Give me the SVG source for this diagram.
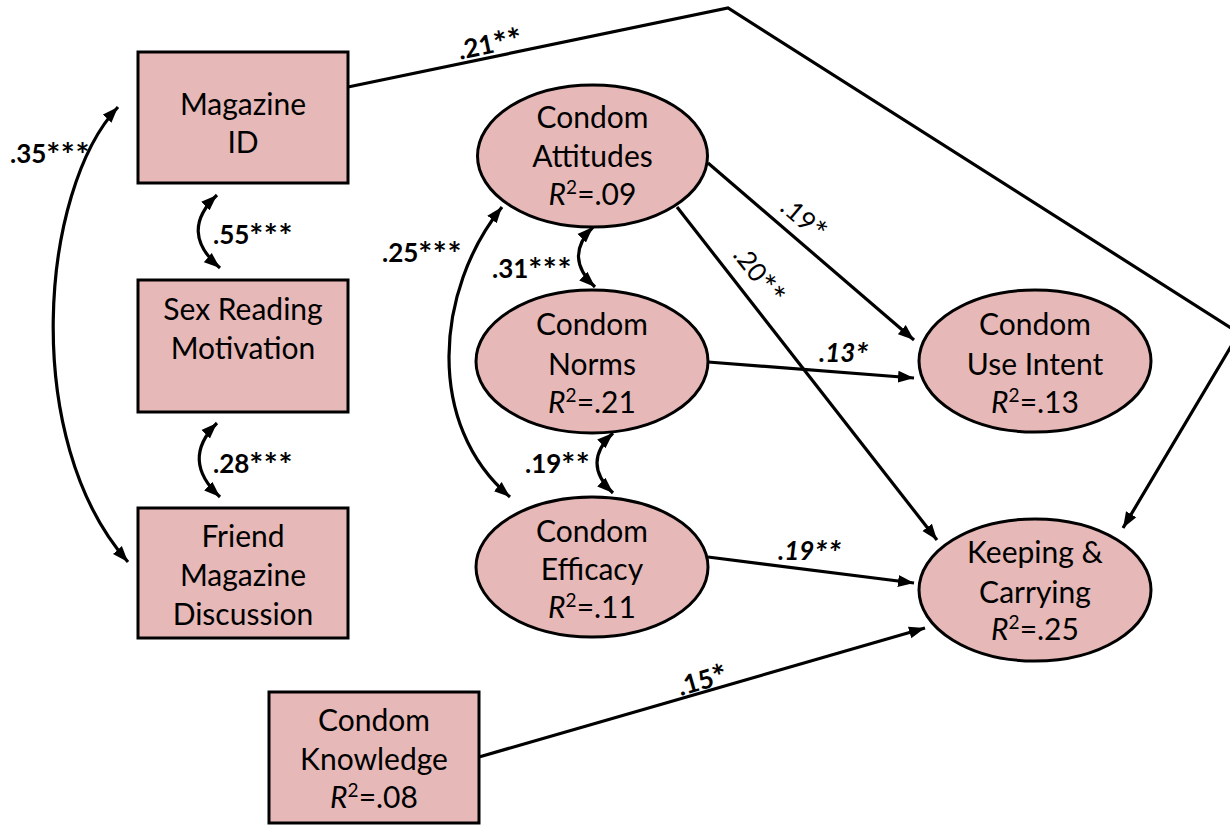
<svg xmlns="http://www.w3.org/2000/svg" width="1230" height="825" viewBox="0 0 1230 825">
  <style>
    .box { fill: #E6B8B7; stroke: #000; stroke-width: 3; }
    .node-text { font-family: Lato, "Liberation Sans", sans-serif; font-size: 30px; fill: #000; text-anchor: middle; }
    .edge { fill: none; stroke: #000; stroke-width: 3.2; }
    .lbl { font-family: Lato, "Liberation Sans", sans-serif; font-size: 26px; fill: #000; }
    .b { font-weight: bold; }
    .bi { font-weight: bold; font-style: italic; }
    .it { font-style: italic; }
    .ast { font-size: 33px; letter-spacing: 0.5px; }
  </style>
  <defs>
    <marker id="arrow" markerUnits="userSpaceOnUse" markerWidth="17" markerHeight="13" refX="16" refY="6.5" orient="auto-start-reverse">
      <path d="M0,0.5 L16,6.5 L0,12.5 z" fill="#000"/>
    </marker>
  </defs>
  <rect width="1230" height="825" fill="#fff"/>

  <!-- connectors -->
  <g id="connectors">
    <path class="edge" d="M348,87 L728,8 L1239,333 L1123,528" marker-end="url(#arrow)"/>
    <path class="edge" d="M708,163 L914,340" marker-end="url(#arrow)"/>
    <path class="edge" d="M677,207 L937,540" marker-end="url(#arrow)"/>
    <path class="edge" d="M708,362 L914,378" marker-end="url(#arrow)"/>
    <path class="edge" d="M708,557 L914,583" marker-end="url(#arrow)"/>
    <path class="edge" d="M479,757 L925,628" marker-end="url(#arrow)"/>
    <!-- covariances -->
    <path class="edge" d="M118,107 C40,190 20,440 128,562" marker-start="url(#arrow)" marker-end="url(#arrow)"/>
    <path class="edge" d="M217,195 Q178,232 220,268" marker-start="url(#arrow)" marker-end="url(#arrow)"/>
    <path class="edge" d="M217,423 Q180,460 220,497" marker-start="url(#arrow)" marker-end="url(#arrow)"/>
    <path class="edge" d="M502,207 C435,290 425,425 510,497" marker-start="url(#arrow)" marker-end="url(#arrow)"/>
    <path class="edge" d="M593,227 Q563,257 595,287" marker-start="url(#arrow)" marker-end="url(#arrow)"/>
    <path class="edge" d="M613,433 Q581,463 613,493" marker-start="url(#arrow)" marker-end="url(#arrow)"/>

    <text class="lbl b" transform="translate(492,53) rotate(-11.7)" text-anchor="middle">.21<tspan class="ast" dy="4">**</tspan></text>
    <text class="lbl b" x="10" y="163">.35<tspan class="ast" dy="4">***</tspan></text>
    <text class="lbl b" x="213" y="244">.55<tspan class="ast" dy="4">***</tspan></text>
    <text class="lbl b" x="213" y="473">.28<tspan class="ast" dy="4">***</tspan></text>
    <text class="lbl b" x="382" y="262">.25<tspan class="ast" dy="4">***</tspan></text>
    <text class="lbl b" x="492" y="278">.31<tspan class="ast" dy="4">***</tspan></text>
    <text class="lbl b" x="525" y="473">.19<tspan class="ast" dy="4">**</tspan></text>
    <text class="lbl" transform="translate(798,226) rotate(40.7)" text-anchor="middle">.19<tspan class="ast" dy="4">*</tspan></text>
    <text class="lbl" transform="translate(752,281) rotate(52)" text-anchor="middle">.20<tspan class="ast" dy="4">**</tspan></text>
    <text class="lbl bi" x="819" y="362">.13<tspan class="ast" dy="4">*</tspan></text>
    <text class="lbl bi" x="778" y="560">.19<tspan class="ast" dy="4">**</tspan></text>
    <text class="lbl b" transform="translate(705,689) rotate(-16)" text-anchor="middle">.15<tspan class="ast" dy="4">*</tspan></text>
  </g>

  <!-- nodes -->
  <g id="magazine-id">
    <rect class="box" x="138" y="52" width="210" height="131"/>
    <text class="node-text" x="243" y="115">Magazine</text>
    <text class="node-text" x="243" y="153">ID</text>
  </g>
  <g id="sex-reading-motivation">
    <rect class="box" x="138" y="280" width="210" height="132"/>
    <text class="node-text" x="243" y="320">Sex Reading</text>
    <text class="node-text" x="243" y="359">Motivation</text>
  </g>
  <g id="friend-magazine-discussion">
    <rect class="box" x="138" y="508" width="210" height="130"/>
    <text class="node-text" x="243" y="547">Friend</text>
    <text class="node-text" x="243" y="586">Magazine</text>
    <text class="node-text" x="243" y="625">Discussion</text>
  </g>
  <g id="condom-knowledge">
    <rect class="box" x="269" y="692" width="210" height="131"/>
    <text class="node-text" x="374" y="731">Condom</text>
    <text class="node-text" x="374" y="770">Knowledge</text>
    <text class="node-text" x="374" y="808"><tspan class="it">R</tspan><tspan dy="-11" font-size="19">2</tspan><tspan dy="11">=.08</tspan></text>
  </g>
  <g id="condom-attitudes">
    <ellipse class="box" cx="592.5" cy="156" rx="115" ry="71"/>
    <text class="node-text" x="592.5" y="128">Condom</text>
    <text class="node-text" x="592.5" y="167">Attitudes</text>
    <text class="node-text" x="592.5" y="205"><tspan class="it">R</tspan><tspan dy="-11" font-size="19">2</tspan><tspan dy="11">=.09</tspan></text>
  </g>
  <g id="condom-norms">
    <ellipse class="box" cx="592" cy="361.5" rx="116" ry="71.5"/>
    <text class="node-text" x="592" y="335">Condom</text>
    <text class="node-text" x="592" y="375">Norms</text>
    <text class="node-text" x="592" y="413"><tspan class="it">R</tspan><tspan dy="-11" font-size="19">2</tspan><tspan dy="11">=.21</tspan></text>
  </g>
  <g id="condom-efficacy">
    <ellipse class="box" cx="592" cy="567" rx="116" ry="70"/>
    <text class="node-text" x="592" y="542">Condom</text>
    <text class="node-text" x="592" y="580">Efficacy</text>
    <text class="node-text" x="592" y="618"><tspan class="it">R</tspan><tspan dy="-11" font-size="19">2</tspan><tspan dy="11">=.11</tspan></text>
  </g>
  <g id="condom-use-intent">
    <ellipse class="box" cx="1035" cy="361" rx="116" ry="71"/>
    <text class="node-text" x="1035" y="335">Condom</text>
    <text class="node-text" x="1035" y="375">Use Intent</text>
    <text class="node-text" x="1035" y="413"><tspan class="it">R</tspan><tspan dy="-11" font-size="19">2</tspan><tspan dy="11">=.13</tspan></text>
  </g>
  <g id="keeping-carrying">
    <ellipse class="box" cx="1035" cy="590" rx="116" ry="71"/>
    <text class="node-text" x="1035" y="563">Keeping &amp;</text>
    <text class="node-text" x="1035" y="603">Carrying</text>
    <text class="node-text" x="1035" y="640"><tspan class="it">R</tspan><tspan dy="-11" font-size="19">2</tspan><tspan dy="11">=.25</tspan></text>
  </g>
</svg>
